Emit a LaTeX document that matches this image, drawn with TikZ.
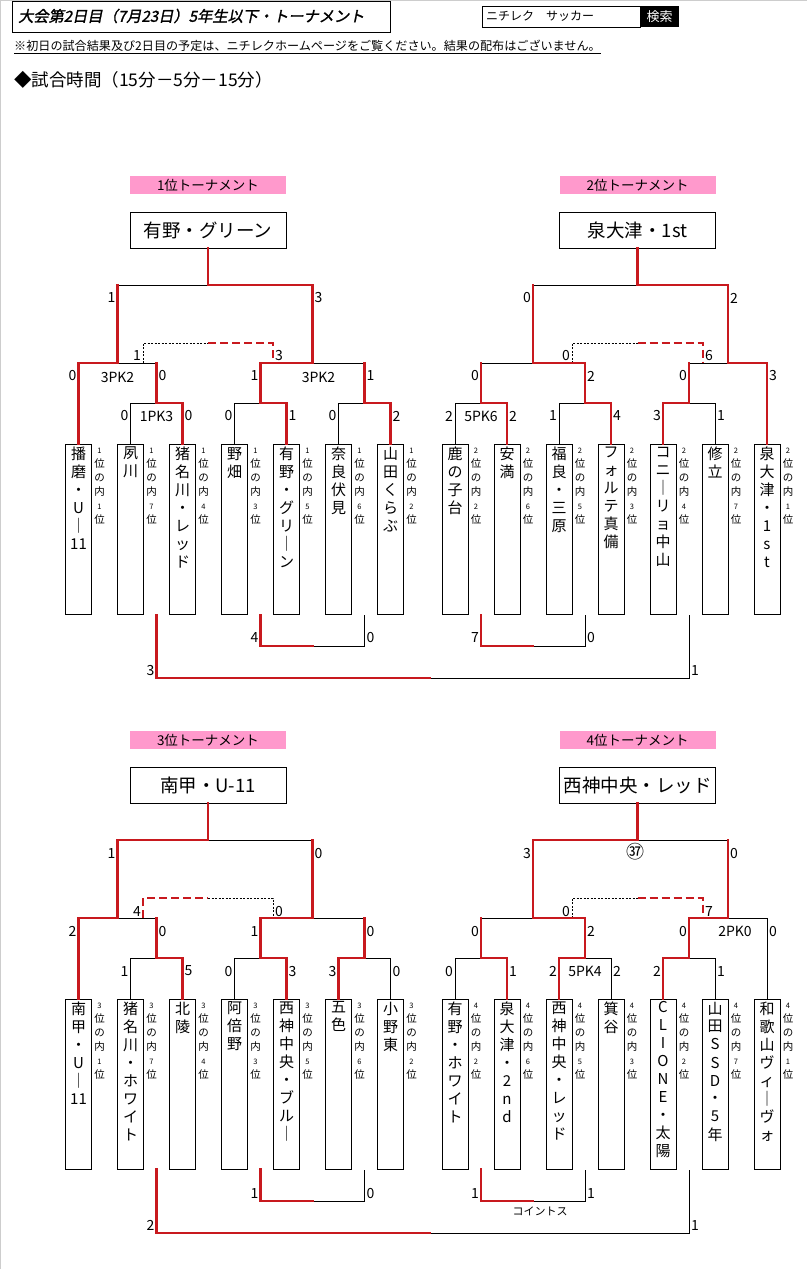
\documentclass[tikz,border=0pt]{standalone}
\usepackage{fontspec}
\setmainfont{Noto Sans CJK JP}
\newfontfamily\titlefont[FakeSlant=0.2,FakeBold=1.5]{Noto Sans CJK JP}
\definecolor{myred}{RGB}{200,25,30}
\definecolor{mypink}{RGB}{255,153,204}
\newcount\labn
\newcommand\Ls[2]{\global\advance\labn by 1\relax\edef\labname{lab\the\labn}\node[sc,anchor=east] (\labname) at ([xshift=-2pt,yshift=-13pt]#1) {#2};}
\newcommand\Rs[2]{\global\advance\labn by 1\relax\edef\labname{lab\the\labn}\node[sc,anchor=west] (\labname) at ([xshift=2pt,yshift=-13pt]#1) {#2};}
\newcommand\Lb[2]{\global\advance\labn by 1\relax\edef\labname{lab\the\labn}\node[sc,anchor=east] (\labname) at ([xshift=-2pt,yshift=8pt]#1) {#2};}
\newcommand\Rb[2]{\global\advance\labn by 1\relax\edef\labname{lab\the\labn}\node[sc,anchor=west] (\labname) at ([xshift=2pt,yshift=8pt]#1) {#2};}
\newcommand\mt[5]{\coordinate (#1l) at (#2,#4); \coordinate (#1r) at (#3,#4); \coordinate (#1m) at (#5,#4);}
\newcommand\team[6]{%
 \node[tbox] (#1) at (#2,#3) {};
 \node[tname] (#1n) at ([yshift=-3pt]#1.north) {#4};
 \node[sidelab] (#1s) at ([xshift=21pt,yshift=-4pt]#1.north) {{\fontsize{7.5}{14}\selectfont #5}\\位\\の\\内\\{\fontsize{7.5}{14}\selectfont #6}\\位};
}
\begin{document}
\begin{tikzpicture}[x=1pt,y=-1pt,
 bl/.style={line width=1pt,draw=black},
 rl/.style={line width=2.8pt,draw=myred,line cap=rect},
 rd/.style={line width=2.8pt,draw=myred,line cap=butt,dash pattern=on 8pt off 4pt},
 bd/.style={line width=0.8pt,draw=black,dash pattern=on 2pt off 1.5pt},
 tbox/.style={draw,line width=1pt,minimum width=26pt,minimum height=170pt,anchor=north,inner sep=0pt},
 tname/.style={font=\fontsize{15}{18}\selectfont,align=center,inner sep=0pt,anchor=north},
 sidelab/.style={font=\fontsize{10.5}{14}\selectfont,align=center,inner sep=0pt,anchor=north},
 sc/.style={font=\fontsize{14}{14}\selectfont,inner sep=0pt},
 wbox/.style={draw,line width=1pt,minimum width=156pt,minimum height=36pt,inner sep=0pt,font=\fontsize{18.5}{20}\selectfont},
 pinklab/.style={fill=mypink,minimum width=156pt,minimum height=18pt,inner sep=0pt,font=\fontsize{13.5}{14}\selectfont}]
\useasboundingbox (0,0) rectangle (807,1269);
\fill[white] (0,0) rectangle (807,1269);
\draw[line width=1pt,draw={rgb,255:red,205;green,205;blue,205}] (0,0.5) -- (807,0.5);
\draw[line width=1pt,draw={rgb,255:red,205;green,205;blue,205}] (0.5,0) -- (0.5,1269);
% header
\node[draw,line width=1pt,minimum width=378pt,minimum height=31pt,anchor=north west,inner sep=0pt] (titlebox) at (12,0.5) {};
\node[anchor=west,inner sep=0pt,font=\titlefont\fontsize{15.2}{16}\selectfont] (titletext) at (18,16) {大会第2日目（7月23日）5年生以下・トーナメント};
\node[draw,line width=1pt,minimum width=158pt,minimum height=21pt,anchor=north west,inner sep=0pt] (sbox) at (482,6) {};
\node[anchor=west,inner sep=0pt,font=\fontsize{12}{13}\selectfont] (stext) at (486,16.5) {ニチレク　サッカー};
\node[fill=black,text=white,minimum width=39pt,minimum height=21pt,anchor=north west,inner sep=0pt,font=\fontsize{13}{14}\selectfont] (sbtn) at (640,6) {検索};
\node[anchor=west,inner sep=0pt,font=\fontsize{12.1}{13}\selectfont] (note) at (14,47) {\underline{※初日の試合結果及び2日目の予定は、ニチレクホームページをご覧ください。結果の配布はございません。}};
\node[anchor=west,inner sep=0pt,font=\fontsize{17.5}{18}\selectfont] (timeinfo) at (14,80) {◆試合時間（15分－5分－15分）};
% ================= T1
\node[pinklab] (t1p) at (208,185) {1位トーナメント};
\node[wbox] (t1w) at (208,230) {有野・グリーン};
\mt{t1f}{117.5}{312.5}{285}{208}
\mt{t1d}{143}{273}{343}{208}
\mt{t1s1}{78.5}{156.5}{363}{117.5}
\mt{t1s2}{260.5}{364.5}{363}{312.5}
\mt{t1q1}{130.5}{182.5}{403}{156.5}
\mt{t1q2}{234.5}{286.5}{403}{260.5}
\mt{t1q3}{338.5}{390.5}{403}{364.5}
\team{t1a}{78.5}{444}{播\\磨\\・\\U\\｜\\11}{1}{1}
\team{t1b}{130.5}{444}{夙\\川}{1}{7}
\team{t1c}{182.5}{444}{猪\\名\\川\\・\\レ\\ッ\\ド}{1}{4}
\team{t1d}{234.5}{444}{野\\畑}{1}{3}
\team{t1e}{286.5}{444}{有\\野\\・\\グ\\リ\\｜\\ン}{1}{5}
\team{t1f}{338.5}{444}{奈\\良\\伏\\見}{1}{6}
\team{t1g}{390.5}{444}{山\\田\\く\\ら\\ぶ}{1}{2}
\draw[bl] (t1fl) -- (t1fm);
\draw[bd] (t1dl |- t1s1m) -- (t1dl) -- (t1dm);
\draw[bl] (t1s1m) -- (t1s1r);
\draw[bl] (t1s2m) -- (t1s2r);
\draw[bl] (t1b.north) -- (t1q1l) -- (t1q1m);
\draw[bl] (t1d.north) -- (t1q2l) -- (t1q2m);
\draw[bl] (t1f.north) -- (t1q3l) -- (t1q3m);
\draw[rl] (t1w.south) -- (t1fm) -- (t1fr) -- (t1s2m) -- (t1s2l) -- (t1q2m) -- (t1q2r) -- (t1e.north);
\draw[rl] (t1fl) -- (t1s1m) -- (t1s1l) -- (t1a.north);
\draw[rl] (t1s1r) -- (t1q1m) -- (t1q1r) -- (t1c.north);
\draw[rl] (t1s2r) -- (t1q3m) -- (t1q3r) -- (t1g.north);
\draw[rd] (t1dm) -- (t1dr) -- (t1dr |- t1s2m);
\Ls{t1fl}{1} \Rs{t1fr}{3}
\Ls{t1dl}{1} \Rs{t1dr}{3}
\Ls{t1s1l}{0} \Rs{t1s1r}{0}
\Ls{t1s2l}{1} \Rs{t1s2r}{1}
\Ls{t1q1l}{0} \Rs{t1q1r}{0}
\Ls{t1q2l}{0} \Rs{t1q2r}{1}
\Ls{t1q3l}{0} \Rs{t1q3r}{2}
\node[sc] (t1pk1) at ([yshift=-14pt]t1s1m) {3PK2};
\node[sc] (t1pk2) at ([xshift=6pt,yshift=-14pt]t1s2m) {3PK2};
\node[sc] (t1pk3) at ([yshift=-13pt]t1q1m) {1PK3};
% ================= T2
\node[pinklab] (t2p) at (637.5,185) {2位トーナメント};
\node[wbox] (t2w) at (637.5,230) {泉大津・1st};
\mt{t2f}{533}{728}{285}{637.5}
\mt{t2d}{572}{703}{343}{637.5}
\mt{t2s1}{481}{585}{363}{533}
\mt{t2s2}{689}{767}{363}{728}
\mt{t2q1}{455}{507}{403}{481}
\mt{t2q2}{559}{611}{403}{585}
\mt{t2q3}{663}{715}{403}{689}
\team{t2a}{455}{444}{鹿\\の\\子\\台}{2}{2}
\team{t2b}{507}{444}{安\\満}{2}{6}
\team{t2c}{559}{444}{福\\良\\・\\三\\原}{2}{5}
\team{t2d}{611}{444}{フ\\ォ\\ル\\テ\\真\\備}{2}{3}
\team{t2e}{663}{444}{コ\\ニ\\｜\\リ\\ョ\\中\\山}{2}{4}
\team{t2f}{715}{444}{修\\立}{2}{7}
\team{t2g}{767}{444}{泉\\大\\津\\・\\1\\s\\t}{2}{1}
\draw[bl] (t2fl) -- (t2fm);
\draw[bd] (t2dl |- t2s1m) -- (t2dl) -- (t2dm);
\draw[bl] (t2s1l) -- (t2s1m);
\draw[bl] (t2s2l) -- (t2s2m);
\draw[bl] (t2a.north) -- (t2q1l) -- (t2q1m);
\draw[bl] (t2c.north) -- (t2q2l) -- (t2q2m);
\draw[bl] (t2q3m) -- (t2q3r) -- (t2f.north);
\draw[rl] (t2w.south) -- (t2fm) -- (t2fr) -- (t2s2m) -- (t2s2r) -- (t2g.north);
\draw[rl] (t2fl) -- (t2s1m) -- (t2s1r) -- (t2q2m) -- (t2q2r) -- (t2d.north);
\draw[rl] (t2s1l) -- (t2q1m) -- (t2q1r) -- (t2b.north);
\draw[rl] (t2s2l) -- (t2q3m) -- (t2q3l) -- (t2e.north);
\draw[rd] (t2dm) -- (t2dr) -- (t2dr |- t2s2m);
\Ls{t2fl}{0} \Rs{t2fr}{2}
\Ls{t2dl}{0} \Rs{t2dr}{6}
\Ls{t2s1l}{0} \Rs{t2s1r}{2}
\Ls{t2s2l}{0} \Rs{t2s2r}{3}
\Ls{t2q1l}{2} \Rs{t2q1r}{2}
\Ls{t2q2l}{1} \Rs{t2q2r}{4}
\Ls{t2q3l}{3} \Rs{t2q3r}{1}
\node[sc] (t2pk1) at ([yshift=-13pt]t2q1m) {5PK6};
% bottom brackets upper
\mt{u1}{260.5}{364.5}{646}{312.5}
\mt{u2}{481}{585}{646}{533}
\mt{u3}{156.5}{689}{678}{430}
\draw[bl] (u1m) -- (u1r) -- (u1r |- t1a.south);
\draw[bl] (u2m) -- (u2r) -- (u2r |- t1a.south);
\draw[bl] (u3m) -- (u3r) -- (u3r |- t1a.south);
\draw[rl] (u1l |- t1a.south) -- (u1l) -- (u1m);
\draw[rl] (u2l |- t1a.south) -- (u2l) -- (u2m);
\draw[rl] (u3l |- t1a.south) -- (u3l) -- (u3m);
\Lb{u1l}{4} \Rb{u1r}{0}
\Lb{u2l}{7} \Rb{u2r}{0}
\Lb{u3l}{3} \Rb{u3r}{1}
% ================= T3
\node[pinklab] (t3p) at (208,740) {3位トーナメント};
\node[wbox] (t3w) at (208,785) {南甲・U-11};
\mt{t3f}{117.5}{312.5}{840}{208}
\mt{t3d}{143}{273}{898}{208}
\mt{t3s1}{78.5}{156.5}{918}{117.5}
\mt{t3s2}{260.5}{364.5}{918}{312.5}
\mt{t3q1}{130.5}{182.5}{958}{156.5}
\mt{t3q2}{234.5}{286.5}{958}{260.5}
\mt{t3q3}{338.5}{390.5}{958}{364.5}
\team{t3a}{78.5}{998.5}{南\\甲\\・\\U\\｜\\11}{3}{1}
\team{t3b}{130.5}{998.5}{猪\\名\\川\\・\\ホ\\ワ\\イ\\ト}{3}{7}
\team{t3c}{182.5}{998.5}{北\\陵}{3}{4}
\team{t3d}{234.5}{998.5}{阿\\倍\\野}{3}{3}
\team{t3e}{286.5}{998.5}{西\\神\\中\\央\\・\\ブ\\ル\\｜}{3}{5}
\team{t3f}{338.5}{998.5}{五\\色}{3}{6}
\team{t3g}{390.5}{998.5}{小\\野\\東}{3}{2}
\draw[bl] (t3fm) -- (t3fr);
\draw[bd] (t3dm) -- (t3dr) -- (t3dr |- t3s2m);
\draw[bl] (t3s1m) -- (t3s1r);
\draw[bl] (t3s2m) -- (t3s2r);
\draw[bl] (t3b.north) -- (t3q1l) -- (t3q1m);
\draw[bl] (t3d.north) -- (t3q2l) -- (t3q2m);
\draw[bl] (t3q3m) -- (t3q3r) -- (t3g.north);
\draw[rl] (t3w.south) -- (t3fm) -- (t3fl) -- (t3s1m) -- (t3s1l) -- (t3a.north);
\draw[rl] (t3fr) -- (t3s2m) -- (t3s2l) -- (t3q2m) -- (t3q2r) -- (t3e.north);
\draw[rl] (t3s1r) -- (t3q1m) -- (t3q1r) -- (t3c.north);
\draw[rl] (t3s2r) -- (t3q3m) -- (t3q3l) -- (t3f.north);
\draw[rd] (t3dl |- t3s1m) -- (t3dl) -- (t3dm);
\Ls{t3fl}{1} \Rs{t3fr}{0}
\Ls{t3dl}{4} \Rs{t3dr}{0}
\Ls{t3s1l}{2} \Rs{t3s1r}{0}
\Ls{t3s2l}{1} \Rs{t3s2r}{0}
\Ls{t3q1l}{1} \Rs{t3q1r}{5}
\Ls{t3q2l}{0} \Rs{t3q2r}{3}
\Ls{t3q3l}{3} \Rs{t3q3r}{0}
% ================= T4
\node[pinklab] (t4p) at (637.5,740) {4位トーナメント};
\node[wbox] (t4w) at (637.5,785) {西神中央・レッド};
\mt{t4f}{533}{728}{840}{637.5}
\mt{t4d}{572}{703}{898}{637.5}
\mt{t4s1}{481}{585}{918}{533}
\mt{t4s2}{689}{767}{918}{728}
\mt{t4q1}{455}{507}{958}{481}
\mt{t4q2}{559}{611}{958}{585}
\mt{t4q3}{663}{715}{958}{689}
\team{t4a}{455}{998.5}{有\\野\\・\\ホ\\ワ\\イ\\ト}{4}{2}
\team{t4b}{507}{998.5}{泉\\大\\津\\・\\2\\n\\d}{4}{6}
\team{t4c}{559}{998.5}{西\\神\\中\\央\\・\\レ\\ッ\\ド}{4}{5}
\team{t4d}{611}{998.5}{箕\\谷}{4}{3}
\team{t4e}{663}{998.5}{C\\L\\I\\O\\N\\E\\・\\太\\陽}{4}{2}
\team{t4f}{715}{998.5}{山\\田\\S\\S\\D\\・\\5\\年}{4}{7}
\team{t4g}{767}{998.5}{和\\歌\\山\\ヴ\\ィ\\｜\\ヴ\\ォ}{4}{1}
\draw[bl] (t4fm) -- (t4fr);
\draw[bd] (t4dl |- t4s1m) -- (t4dl) -- (t4dm);
\draw[bl] (t4s1l) -- (t4s1m);
\draw[bl] (t4s2m) -- (t4s2r) -- (t4g.north);
\draw[bl] (t4a.north) -- (t4q1l) -- (t4q1m);
\draw[bl] (t4q2m) -- (t4q2r) -- (t4d.north);
\draw[bl] (t4q3m) -- (t4q3r) -- (t4f.north);
\draw[rl] (t4w.south) -- (t4fm) -- (t4fl) -- (t4s1m) -- (t4s1r) -- (t4q2m) -- (t4q2l) -- (t4c.north);
\draw[rl] (t4fr) -- (t4s2m) -- (t4s2l) -- (t4q3m) -- (t4q3l) -- (t4e.north);
\draw[rl] (t4s1l) -- (t4q1m) -- (t4q1r) -- (t4b.north);
\draw[rd] (t4dm) -- (t4dr) -- (t4dr |- t4s2m);
\Ls{t4fl}{3} \Rs{t4fr}{0}
\Ls{t4dl}{0} \Rs{t4dr}{7}
\Ls{t4s1l}{0} \Rs{t4s1r}{2}
\Ls{t4s2l}{0} \Rs{t4s2r}{0}
\Ls{t4q1l}{0} \Rs{t4q1r}{1}
\Ls{t4q2l}{2} \Rs{t4q2r}{2}
\Ls{t4q3l}{2} \Rs{t4q3r}{1}
\node[sc] (t4pk1) at ([yshift=-13pt]t4q2m) {5PK4};
\node[sc] (t4pk2) at ([xshift=7pt,yshift=-13pt]t4s2m) {2PK0};
\node[inner sep=0pt,font=\fontsize{18}{18}\selectfont] (t4no) at ([xshift=-2pt,yshift=-12pt]t4fm) {㊲};
% bottom brackets lower
\mt{v1}{260.5}{364.5}{1201}{312.5}
\mt{v2}{481}{585}{1201}{533}
\mt{v3}{156.5}{689}{1233}{430}
\draw[bl] (v1m) -- (v1r) -- (v1r |- t3a.south);
\draw[bl] (v2m) -- (v2r) -- (v2r |- t3a.south);
\draw[bl] (v3m) -- (v3r) -- (v3r |- t3a.south);
\draw[rl] (v1l |- t3a.south) -- (v1l) -- (v1m);
\draw[rl] (v2l |- t3a.south) -- (v2l) -- (v2m);
\draw[rl] (v3l |- t3a.south) -- (v3l) -- (v3m);
\Lb{v1l}{1} \Rb{v1r}{0}
\Lb{v2l}{1} \Rb{v2r}{1}
\Lb{v3l}{2} \Rb{v3r}{1}
\node[inner sep=0pt,font=\fontsize{11}{12}\selectfont] (coin) at ([xshift=7pt,yshift=-10pt]v2m) {コイントス};
\end{tikzpicture}
\end{document}
